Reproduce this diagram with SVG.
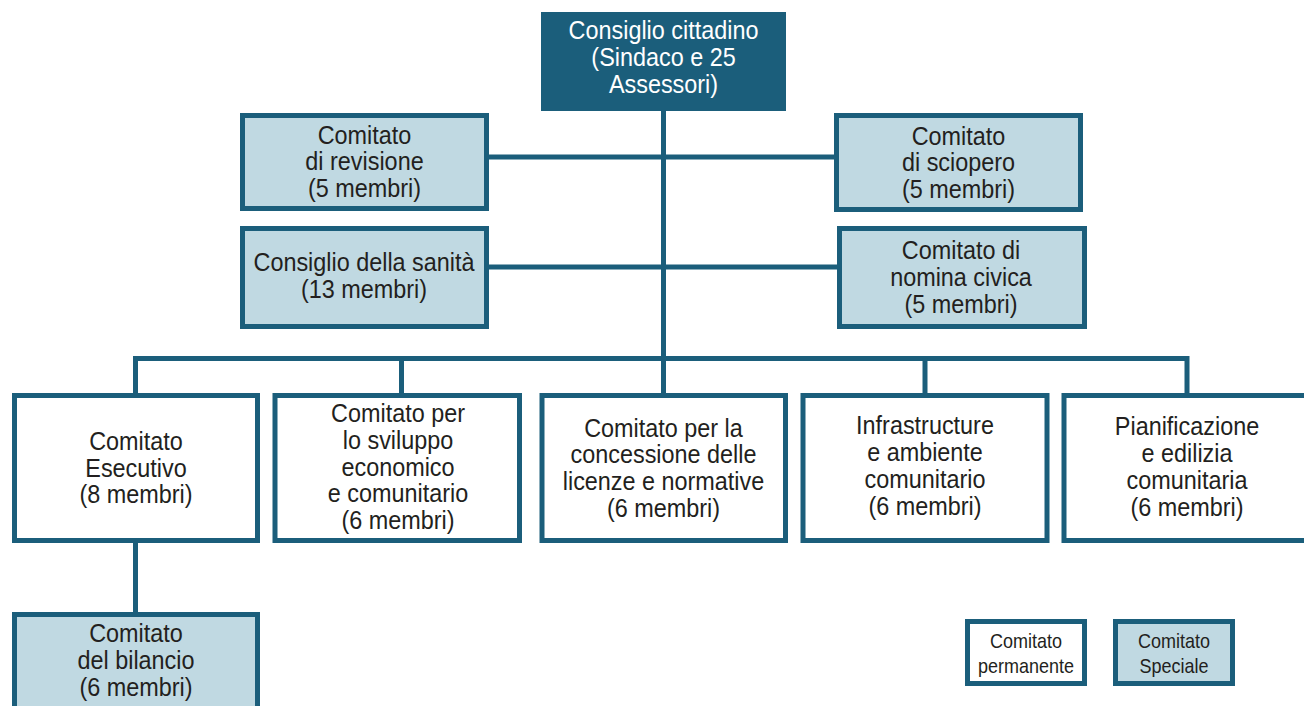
<svg xmlns="http://www.w3.org/2000/svg" width="1304" height="706" viewBox="0 0 1304 706">
<style>
.t{font-family:"Liberation Sans",Arial,sans-serif;font-size:26px;fill:#231f20;text-anchor:middle}
.w{fill:#ffffff}
.lg{font-size:20px}
.perm{fill:#ffffff;stroke:#1b5e7b;stroke-width:5}
.spec{fill:#c0d9e2;stroke:#1b5e7b;stroke-width:5}
.top{fill:#1b5e7b}
.ln{stroke:#1b5e7b;stroke-width:5;fill:none}
</style>
<rect width="1304" height="706" fill="#ffffff"/>
<g id="connectors">
<line class="ln" x1="663.5" y1="110" x2="663.5" y2="395"/>
<line class="ln" x1="487" y1="157" x2="836" y2="157"/>
<line class="ln" x1="487" y1="267" x2="839" y2="267"/>
<path class="ln" d="M135.5 395 V358.5 H1187 V395"/>
<line class="ln" x1="401.5" y1="358.5" x2="401.5" y2="395"/>
<line class="ln" x1="925" y1="358.5" x2="925" y2="395"/>
<line class="ln" x1="135.5" y1="541" x2="135.5" y2="614"/>
</g>
<g id="consiglio-cittadino">
<rect class="top" x="541" y="12" width="245" height="99"/>
<text class="t w" transform="translate(663.5 0) scale(0.9 1)"><tspan x="0" y="39">Consiglio cittadino</tspan><tspan x="0" y="66">(Sindaco e 25</tspan><tspan x="0" y="93">Assessori)</tspan></text>
</g>
<g id="comitato-revisione">
<rect class="spec" x="242.5" y="115.5" width="244" height="93"/>
<text class="t" transform="translate(364.5 0) scale(0.9 1)"><tspan x="0" y="144">Comitato</tspan><tspan x="0" y="170">di revisione</tspan><tspan x="0" y="197">(5 membri)</tspan></text>
</g>
<g id="consiglio-sanita">
<rect class="spec" x="242.5" y="228.5" width="244" height="98"/>
<text class="t" transform="translate(364 0) scale(0.9 1)"><tspan x="0" y="271">Consiglio della sanità</tspan><tspan x="0" y="298">(13 membri)</tspan></text>
</g>
<g id="comitato-sciopero">
<rect class="spec" x="836.5" y="115.5" width="244" height="94"/>
<text class="t" transform="translate(958.5 0) scale(0.9 1)"><tspan x="0" y="145">Comitato</tspan><tspan x="0" y="171">di sciopero</tspan><tspan x="0" y="198">(5 membri)</tspan></text>
</g>
<g id="comitato-nomina">
<rect class="spec" x="839.5" y="228.5" width="245" height="98"/>
<text class="t" transform="translate(961 0) scale(0.9 1)"><tspan x="0" y="259">Comitato di</tspan><tspan x="0" y="286">nomina civica</tspan><tspan x="0" y="313">(5 membri)</tspan></text>
</g>
<g id="comitato-esecutivo">
<rect class="perm" x="14.5" y="395.5" width="243" height="145"/>
<text class="t" transform="translate(136 0) scale(0.9 1)"><tspan x="0" y="450">Comitato</tspan><tspan x="0" y="477">Esecutivo</tspan><tspan x="0" y="503">(8 membri)</tspan></text>
</g>
<g id="comitato-sviluppo">
<rect class="perm" x="275" y="395.5" width="244.5" height="145"/>
<text class="t" transform="translate(398 0) scale(0.9 1)"><tspan x="0" y="422">Comitato per</tspan><tspan x="0" y="449">lo sviluppo</tspan><tspan x="0" y="476">economico</tspan><tspan x="0" y="502">e comunitario</tspan><tspan x="0" y="529">(6 membri)</tspan></text>
</g>
<g id="comitato-licenze">
<rect class="perm" x="542" y="395.5" width="243.5" height="145"/>
<text class="t" transform="translate(663.5 0) scale(0.9 1)"><tspan x="0" y="437">Comitato per la</tspan><tspan x="0" y="463">concessione delle</tspan><tspan x="0" y="490">licenze e normative</tspan><tspan x="0" y="517">(6 membri)</tspan></text>
</g>
<g id="infrastrutture">
<rect class="perm" x="803" y="395.5" width="244" height="145"/>
<text class="t" transform="translate(925 0) scale(0.9 1)"><tspan x="0" y="434">Infrastructure</tspan><tspan x="0" y="461">e ambiente</tspan><tspan x="0" y="488">comunitario</tspan><tspan x="0" y="515">(6 membri)</tspan></text>
</g>
<g id="pianificazione">
<rect class="perm" x="1064" y="395.5" width="246" height="145"/>
<text class="t" transform="translate(1187 0) scale(0.9 1)"><tspan x="0" y="435">Pianificazione</tspan><tspan x="0" y="462">e edilizia</tspan><tspan x="0" y="489">comunitaria</tspan><tspan x="0" y="516">(6 membri)</tspan></text>
</g>
<g id="comitato-bilancio">
<rect class="spec" x="14.5" y="614.5" width="243" height="110"/>
<text class="t" transform="translate(136 0) scale(0.9 1)"><tspan x="0" y="642">Comitato</tspan><tspan x="0" y="669">del bilancio</tspan><tspan x="0" y="696">(6 membri)</tspan></text>
</g>
<g id="legenda-permanente">
<rect class="perm" x="967.5" y="621.5" width="117" height="62"/>
<text class="t lg" transform="translate(1026 0) scale(0.9 1)"><tspan x="0" y="648">Comitato</tspan><tspan x="0" y="673">permanente</tspan></text>
</g>
<g id="legenda-speciale">
<rect class="spec" x="1115.5" y="621.5" width="117" height="62"/>
<text class="t lg" transform="translate(1174 0) scale(0.9 1)"><tspan x="0" y="648">Comitato</tspan><tspan x="0" y="673">Speciale</tspan></text>
</g>
</svg>
